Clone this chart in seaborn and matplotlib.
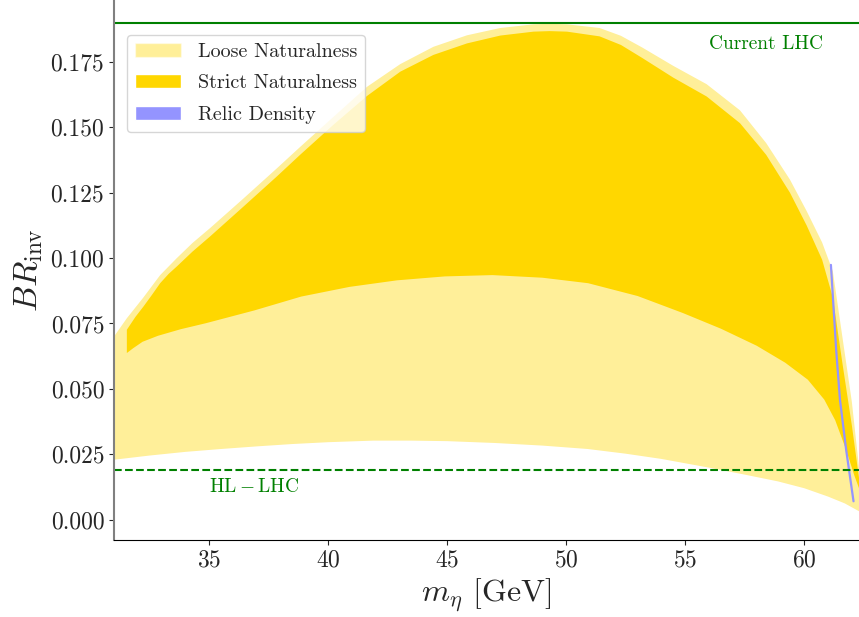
import matplotlib
matplotlib.use("Agg")
import matplotlib.pyplot as plt
from matplotlib.patches import Patch
import numpy as np
import pandas as pd
import seaborn as sns

# Loose naturalness band: lower edge
loose_lo_x = [31.0, 32.5, 34.0, 35.5, 37.0, 38.5, 40.0, 41.9, 43.5, 45.0, 47.0, 49.0, 50.9, 52.5,
              54.0, 56.1, 57.5, 58.9, 60.0, 61.0, 61.7, 62.3]
loose_lo_y = [0.0229, 0.0245, 0.0259, 0.0270, 0.0280, 0.0289, 0.0296, 0.0302, 0.0302, 0.0300, 0.0293,
              0.0283, 0.0270, 0.0252, 0.0232, 0.0197, 0.0172, 0.0146, 0.0120, 0.0088, 0.0062, 0.0032]
# Loose naturalness band: upper edge
loose_hi_x = [31.0, 31.54, 32.24, 32.94, 33.64, 34.3, 35.04, 36.44, 37.84, 38.82, 40.22, 41.63, 43.03,
              44.42, 45.83, 47.23, 48.63, 49.3, 50.03, 51.4, 52.3, 53.2, 54.5, 55.9, 57.3, 58.4, 59.4,
              60.1, 60.75, 61.2, 61.6, 62.0, 62.3]
loose_hi_y = [0.0700, 0.0770, 0.0850, 0.0935, 0.1000, 0.1058, 0.1115, 0.1228, 0.1343, 0.1425, 0.1540,
              0.1655, 0.1742, 0.1808, 0.1852, 0.1880, 0.1894, 0.1896, 0.1894, 0.1880, 0.1850, 0.1805,
              0.1735, 0.1665, 0.1565, 0.1440, 0.1300, 0.1180, 0.1060, 0.0950, 0.0700, 0.0450, 0.0200]

# Strict naturalness band: lower edge
strict_lo_x = [31.54, 31.8, 32.2, 32.85, 33.8, 34.86, 36.9, 38.87, 40.9, 42.89, 44.9, 46.9, 49.0,
               50.92, 53.0, 54.9, 56.5, 58.0, 59.2, 60.15, 60.84, 61.3, 61.76, 62.1, 62.3]
strict_lo_y = [0.0637, 0.0655, 0.0680, 0.0703, 0.0728, 0.0751, 0.0800, 0.0853, 0.0890, 0.0915, 0.0930,
               0.0935, 0.0925, 0.0904, 0.0855, 0.0790, 0.0730, 0.0665, 0.0600, 0.0535, 0.0459, 0.0380,
               0.0267, 0.0170, 0.0120]
# Strict naturalness band: upper edge
strict_hi_x = [31.54, 31.9, 32.24, 32.6, 32.94, 33.3, 33.64, 34.3, 35.04, 36.44, 37.84, 38.82, 40.22,
               41.63, 43.03, 44.42, 45.83, 47.23, 48.63, 49.3, 50.03, 51.4, 52.3, 53.2, 54.5, 55.9,
               57.3, 58.4, 59.4, 60.1, 60.75, 61.2, 61.6, 62.0, 62.3]
strict_hi_y = [0.0726, 0.0775, 0.0815, 0.0860, 0.0904, 0.0940, 0.0968, 0.1025, 0.1083, 0.1197, 0.1312,
               0.1395, 0.1510, 0.1620, 0.1713, 0.1777, 0.1821, 0.1851, 0.1866, 0.1868, 0.1866, 0.1848,
               0.1815, 0.1765, 0.1690, 0.1618, 0.1516, 0.1395, 0.1250, 0.1125, 0.0994, 0.0850, 0.0600,
               0.0360, 0.0160]

# Relic density curve
relic_x = [61.12, 61.34, 61.50, 61.76, 62.07]
relic_y = [0.0974, 0.0650, 0.0459, 0.0267, 0.0070]

# Experimental limits on the invisible branching ratio
current_lhc = 0.19
hl_lhc = 0.019

x_ticks = [35, 40, 45, 50, 55, 60]
y_ticks = [0.000, 0.025, 0.050, 0.075, 0.100, 0.125, 0.150, 0.175]

sns.set_style("ticks")
plt.rcParams["font.family"] = ["serif"]
plt.rcParams["font.serif"] = ["cmr10", "DejaVu Serif"]
plt.rcParams["mathtext.fontset"] = "cm"
plt.rcParams["axes.formatter.use_mathtext"] = True
plt.rcParams["axes.unicode_minus"] = False

gold = "#FFD700"
relic_color = "#9494FF"

fig = plt.figure(figsize=(8.59, 6.17), dpi=100)
ax = fig.add_axes([0.1327, 0.1248, 0.8673, 0.8752])


def band(ax, lo_x, lo_y, hi_x, hi_y, **kw):
    xs = np.concatenate([lo_x, hi_x[::-1]])
    ys = np.concatenate([lo_y, hi_y[::-1]])
    ax.fill(xs, ys, linewidth=0, **kw)


band(ax, loose_lo_x, loose_lo_y, loose_hi_x, loose_hi_y, color=gold, alpha=0.4)
band(ax, strict_lo_x, strict_lo_y, strict_hi_x, strict_hi_y, color=gold, alpha=1.0)

relic = pd.DataFrame({"m": relic_x, "br": relic_y})
sns.lineplot(data=relic, x="m", y="br", ax=ax, color=relic_color, linewidth=1.6, sort=False)

ax.axhline(current_lhc, color="green", linewidth=1.5)
ax.axhline(hl_lhc, color="green", linewidth=1.5, linestyle="--")
ax.text(56.0, 0.1818, "Current LHC", color="green", fontsize=14, ha="left", va="center")
ax.text(35.0, 0.0124, r"$\mathrm{HL-LHC}$", color="green", fontsize=14, ha="left", va="center")

ax.set_xlim(31.0, 62.3)
ax.set_ylim(-0.0078, 0.1987)
ax.set_xticks(x_ticks)
ax.set_yticks(y_ticks)
ax.set_yticklabels([f"{v:.3f}" for v in y_ticks])
ax.tick_params(axis="both", labelsize=17)
ax.set_xlabel(r"$m_\eta$ [GeV]", fontsize=23)
ax.set_ylabel(r"$BR_{\rm inv}$", fontsize=24)

for side in ("top", "right"):
    ax.spines[side].set_visible(False)
ax.spines["left"].set_color("gray")
ax.spines["left"].set_linewidth(1.5)
ax.spines["bottom"].set_color("black")

handles = [Patch(facecolor=gold, alpha=0.4, label="Loose Naturalness"),
           Patch(facecolor=gold, label="Strict Naturalness"),
           Patch(facecolor=relic_color, label="Relic Density")]
ax.legend(handles=handles, loc="upper left", bbox_to_anchor=(0.0175, 0.935), borderaxespad=0,
          fontsize=14.5, labelspacing=0.65, handlelength=2.3, frameon=True)

fig.savefig("out.png", dpi=100)
